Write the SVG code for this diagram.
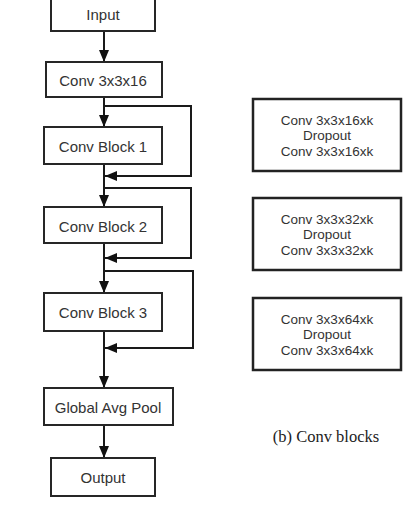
<svg xmlns="http://www.w3.org/2000/svg" width="416" height="516" viewBox="0 0 416 516">
<style>
.box{fill:#fff;stroke:#262626;stroke-width:2}
.rb{fill:#fff;stroke:#222;stroke-width:2.5}
.t{font-family:"Liberation Sans",Arial,sans-serif;font-size:15px;fill:#333;text-anchor:middle;dominant-baseline:central}
.s{font-family:"Liberation Sans",Arial,sans-serif;font-size:13.5px;fill:#333;text-anchor:middle;dominant-baseline:central}
.c{fill:none;stroke:#1a1a1a;stroke-width:2}
.cap{font-family:"Liberation Serif","Times New Roman",serif;font-size:16.5px;fill:#222;text-anchor:middle}
</style>
<defs>
<marker id="ah" markerUnits="userSpaceOnUse" markerWidth="12" markerHeight="10" refX="12" refY="5" orient="auto">
<path d="M0,0 L12,5 L0,10 z" fill="#111"/>
</marker>
</defs>
<rect width="416" height="516" fill="#fff"/>
<g id="connectors">
<line class="c" x1="104" y1="31" x2="104" y2="62" marker-end="url(#ah)"/>
<line class="c" x1="104" y1="97" x2="104" y2="127" marker-end="url(#ah)"/>
<path class="c" d="M104,106 H191 V176 H105" marker-end="url(#ah)"/>
<line class="c" x1="104" y1="164" x2="104" y2="207" marker-end="url(#ah)"/>
<path class="c" d="M104,188 H191 V258 H105" marker-end="url(#ah)"/>
<line class="c" x1="104" y1="243" x2="104" y2="293" marker-end="url(#ah)"/>
<path class="c" d="M104,271 H193 V348 H105" marker-end="url(#ah)"/>
<line class="c" x1="104" y1="331" x2="104" y2="388" marker-end="url(#ah)"/>
<line class="c" x1="104" y1="425" x2="104" y2="458" marker-end="url(#ah)"/>
</g>
<g id="input"><rect class="box" x="51" y="-2" width="104" height="33"/><text class="t" x="103" y="14">Input</text></g>
<g id="conv"><rect class="box" x="46" y="62" width="116" height="35"/><text class="t" x="103" y="80">Conv 3x3x16</text></g>
<g id="block1"><rect class="box" x="44" y="127" width="118" height="37"/><text class="t" x="103" y="146">Conv Block 1</text></g>
<g id="block2"><rect class="box" x="44" y="207" width="118" height="36"/><text class="t" x="103" y="226">Conv Block 2</text></g>
<g id="block3"><rect class="box" x="44" y="293" width="118" height="38"/><text class="t" x="103" y="312">Conv Block 3</text></g>
<g id="gap"><rect class="box" x="44" y="388" width="129" height="37"/><text class="t" x="108" y="407">Global Avg Pool</text></g>
<g id="output"><rect class="box" x="51" y="458" width="104" height="38"/><text class="t" x="103" y="477">Output</text></g>
<g id="cb1"><rect class="rb" x="253" y="99" width="148" height="72"/>
<text class="s" x="327" y="120">Conv 3x3x16xk</text><text class="s" x="327" y="135.5">Dropout</text><text class="s" x="327" y="151">Conv 3x3x16xk</text></g>
<g id="cb2"><rect class="rb" x="253" y="198" width="148" height="72"/>
<text class="s" x="327" y="219">Conv 3x3x32xk</text><text class="s" x="327" y="234.5">Dropout</text><text class="s" x="327" y="250">Conv 3x3x32xk</text></g>
<g id="cb3"><rect class="rb" x="253" y="298" width="148" height="72"/>
<text class="s" x="327" y="319">Conv 3x3x64xk</text><text class="s" x="327" y="334.5">Dropout</text><text class="s" x="327" y="350">Conv 3x3x64xk</text></g>
<text class="cap" x="326" y="442">(b) Conv blocks</text>
</svg>
